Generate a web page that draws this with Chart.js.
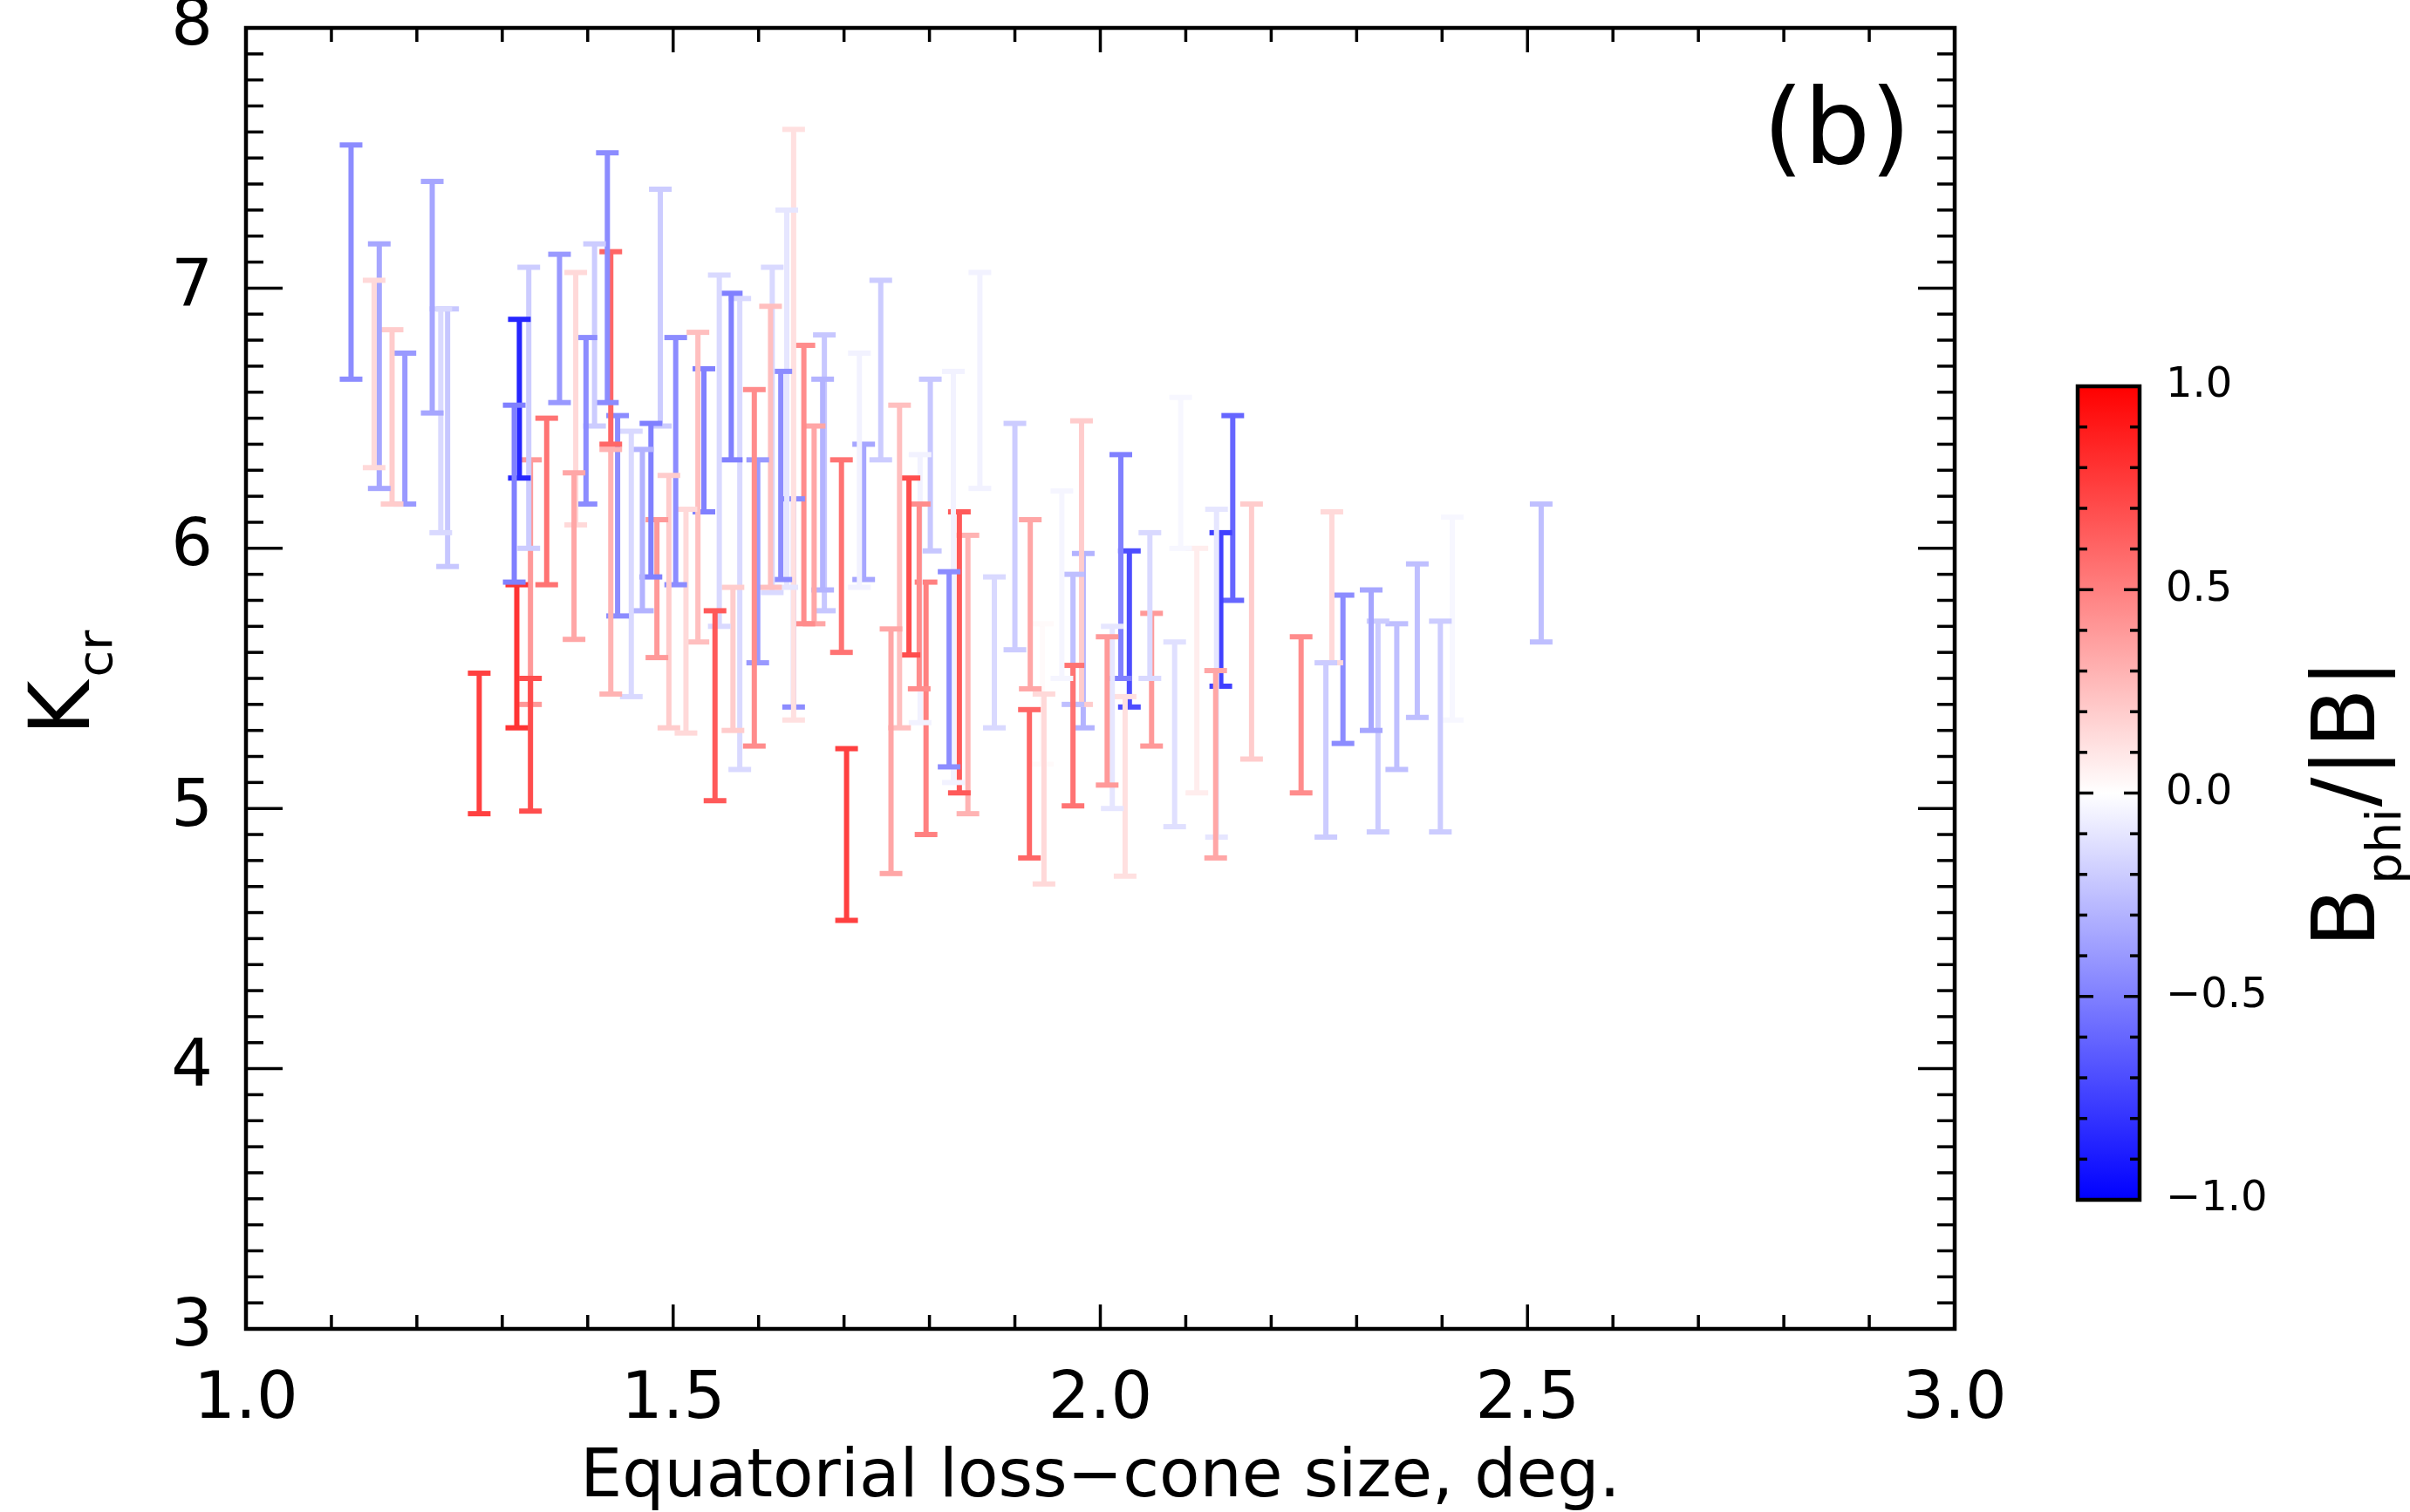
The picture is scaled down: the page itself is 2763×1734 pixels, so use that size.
<!DOCTYPE html>
<html>
<head>
<meta charset="utf-8">
<script src="https://cdn.jsdelivr.net/npm/chart.js@4.4.1/dist/chart.umd.min.js"></script>
<style>
  html, body { margin: 0; padding: 0; background: #fff; overflow: hidden; }
  #wrap { position: relative; width: 2763px; height: 1734px; }
  #main { position: absolute; left: 0; top: 0; }
  #cbar { position: absolute; left: 2300px; top: 400px; }
</style>
</head>
<body>
<div id="wrap">
  <canvas id="main" width="2763" height="1734"></canvas>
  <canvas id="cbar" width="463" height="1020"></canvas>
</div>
<script>
// ------ data ------
var lossCone = [1.123, 1.150, 1.156, 1.171, 1.186, 1.218, 1.228, 1.236, 1.273, 1.314,
  1.317, 1.320, 1.331, 1.333, 1.333, 1.352, 1.367, 1.384, 1.386, 1.398,
  1.408, 1.423, 1.427, 1.427, 1.435, 1.451, 1.464, 1.474, 1.481, 1.485,
  1.495, 1.503, 1.515, 1.529, 1.536, 1.549, 1.554, 1.568, 1.570, 1.578,
  1.595, 1.599, 1.614, 1.616, 1.626, 1.633, 1.641, 1.641, 1.653, 1.665,
  1.675, 1.677, 1.697, 1.703, 1.718, 1.723, 1.743, 1.755, 1.765, 1.776,
  1.788, 1.789, 1.796, 1.801, 1.823, 1.828, 1.835, 1.845, 1.859, 1.876,
  1.900, 1.917, 1.918, 1.934, 1.932, 1.955, 1.968, 1.968, 1.978, 1.980,
  2.008, 2.014, 2.024, 2.029, 2.034, 2.058, 2.060, 2.087, 2.094, 2.113,
  2.135, 2.136, 2.141, 2.155, 2.177, 2.235, 2.264, 2.271, 2.284, 2.317,
  2.325, 2.347, 2.371, 2.398, 2.412, 2.516];

var kLow = [6.65, 6.31, 6.23, 6.17, 6.17, 6.52, 6.06, 5.93, 4.98, 5.87,
  5.31, 6.27, 6.00, 4.99, 5.40, 5.86, 6.56, 5.65, 6.09, 6.17,
  6.47, 6.56, 6.40, 5.44, 5.74, 5.43, 5.76, 5.89, 5.58, 6.47,
  5.31, 5.86, 5.29, 5.64, 6.14, 5.03, 5.70, 6.34, 5.30, 5.15,
  5.24, 5.56, 5.85, 5.83, 5.88, 5.85, 5.34, 5.39, 5.71, 5.71,
  5.84, 5.76, 5.60, 4.57, 5.85, 5.88, 6.34, 4.75, 5.31, 5.59,
  5.46, 5.33, 4.90, 5.99, 5.16, 5.10, 5.06, 4.98, 6.23, 5.31,
  5.61, 4.81, 5.46, 4.71, 5.17, 5.50, 5.01, 5.40, 5.40, 5.31,
  5.09, 5.00, 5.50, 4.74, 5.39, 5.50, 5.24, 4.93, 6.00, 5.06,
  4.81, 4.89, 5.47, 5.80, 5.19, 5.06, 4.89, 5.56, 5.25, 5.30,
  4.91, 5.15, 5.35, 4.91, 5.34, 5.64];

var kHigh = [7.55, 7.03, 7.17, 6.84, 6.75, 7.41, 6.92, 6.92, 5.52, 6.55,
  5.86, 6.88, 7.08, 5.50, 6.34, 6.50, 7.13, 6.29, 7.06, 6.81,
  7.17, 7.52, 7.14, 6.38, 6.51, 6.45, 6.38, 6.48, 6.11, 7.38,
  6.28, 6.81, 6.15, 6.83, 6.69, 5.76, 7.05, 6.98, 5.85, 6.96,
  6.61, 6.34, 6.93, 7.08, 6.68, 7.30, 7.61, 6.19, 6.78, 6.47,
  6.65, 6.82, 6.34, 5.23, 6.75, 6.40, 7.03, 5.69, 6.55, 6.27,
  6.17, 6.36, 5.87, 6.65, 5.91, 6.68, 6.14, 6.05, 7.06, 5.89,
  6.48, 5.38, 6.11, 5.44, 5.71, 6.22, 5.55, 5.90, 6.49, 5.98,
  5.66, 5.70, 6.36, 5.43, 5.99, 6.06, 5.75, 5.64, 6.58, 6.00,
  5.53, 6.15, 6.06, 6.51, 6.17, 5.66, 5.56, 6.14, 5.82, 5.84,
  5.72, 5.71, 5.94, 5.72, 6.12, 6.17];

var bphiRatio = [-0.45, 0.15, -0.35, 0.20, -0.40, -0.35, -0.15, -0.22, 0.75, -0.50,
  0.80, -0.85, -0.20, 0.70, 0.40, 0.55, -0.40, 0.35, 0.15, -0.45,
  -0.20, -0.45, 0.60, 0.30, -0.45, -0.15, -0.30, -0.50, 0.40, -0.20,
  0.20, -0.45, 0.15, 0.25, -0.50, 0.65, -0.15, -0.50, 0.20, -0.15,
  0.45, -0.40, 0.25, -0.15, -0.45, -0.10, 0.12, -0.45, 0.45, 0.35,
  -0.30, -0.22, 0.55, 0.75, -0.05, -0.35, -0.20, 0.35, 0.25, 0.70,
  0.45, -0.05, 0.50, -0.22, -0.45, -0.05, 0.65, 0.30, -0.05, -0.15,
  -0.20, 0.60, 0.35, 0.15, 0.02, -0.04, 0.55, -0.25, 0.20, -0.30,
  0.40, -0.10, -0.50, 0.12, -0.70, -0.15, 0.40, -0.12, -0.03, 0.07,
  0.35, -0.10, -0.75, -0.60, 0.20, 0.45, -0.20, 0.15, -0.45, -0.35,
  -0.20, -0.25, -0.25, -0.20, -0.03, -0.25];

var xTickValues = [1.0, 1.5, 2.0, 2.5, 3.0];
var yTickValues = [3, 4, 5, 6, 7, 8];
var cbTickValues = [-1.0, -0.5, 0.0, 0.5, 1.0];
var cbRange = [-1, 1];

var xTitle = 'Equatorial loss\u2212cone size, deg.';
var panelTag = '(b)';

Chart.defaults.font.family = '"DejaVu Sans", sans-serif';
Chart.defaults.color = '#000';

// blue - white - red colour table
function bwr(c) {
  var t = Math.max(-1, Math.min(1, c));
  var g;
  if (t >= 0) {
    g = Math.round(255 * (1 - t));
    return 'rgb(255,' + g + ',' + g + ')';
  }
  g = Math.round(255 * (1 + t));
  return 'rgb(' + g + ',' + g + ',255)';
}

function fmt(v) {
  return (v < 0 ? '\u2212' : '') + Math.abs(v).toFixed(1);
}

function seg(ctx, x1, y1, x2, y2) {
  ctx.beginPath();
  ctx.moveTo(x1, y1);
  ctx.lineTo(x2, y2);
  ctx.stroke();
}

// keep the plot box where the reference has it
function noLabelPadding(s) {
  s.paddingTop = 0;
  s.paddingBottom = 0;
  s.paddingLeft = 0;
  s.paddingRight = 0;
}

// one dataset per error bar: vertical line + flat caps
var errorBars = lossCone.map(function (x, i) {
  var col = bwr(bphiRatio[i]);
  return {
    data: [{ x: x, y: kLow[i] }, { x: x, y: kHigh[i] }],
    showLine: true,
    borderColor: col,
    borderWidth: 6,
    pointStyle: 'line',
    pointRadius: 13,
    pointBorderWidth: 6,
    pointBorderColor: col,
    pointBackgroundColor: col
  };
});

// box, inward ticks, y title, panel tag
var frame = {
  id: 'frame',
  afterDraw: function (chart) {
    var ctx = chart.ctx, a = chart.chartArea;
    var x = chart.scales.x, y = chart.scales.y;
    ctx.save();
    ctx.strokeStyle = '#000';
    ctx.lineWidth = 3.5;
    for (var i = 10; i <= 30; i++) {
      var px = x.getPixelForValue(i / 10);
      var len = i % 5 === 0 ? 28 : 16;
      seg(ctx, px, a.bottom, px, a.bottom - len);
      seg(ctx, px, a.top, px, a.top + len);
    }
    for (var j = 30; j <= 80; j++) {
      var py = y.getPixelForValue(j / 10);
      var ln = j % 10 === 0 ? 42 : 20;
      seg(ctx, a.left, py, a.left + ln, py);
      seg(ctx, a.right, py, a.right - ln, py);
    }
    ctx.lineWidth = 4.5;
    ctx.strokeRect(a.left, a.top, a.right - a.left, a.bottom - a.top);

    ctx.fillStyle = '#000';
    // K_cr
    ctx.save();
    ctx.translate(102, 0);
    ctx.rotate(-Math.PI / 2);
    ctx.font = '96px "DejaVu Sans"';
    var wK = ctx.measureText('K').width;
    ctx.font = '56px "DejaVu Sans"';
    var wS = ctx.measureText('cr').width;
    var start = -(783 + (wK + wS + 4) / 2);
    ctx.font = '96px "DejaVu Sans"';
    ctx.textBaseline = 'alphabetic';
    ctx.fillText('K', start, 0);
    ctx.font = '56px "DejaVu Sans"';
    ctx.fillText('cr', start + wK + 4, 26);
    ctx.restore();

    ctx.font = '120px "DejaVu Sans"';
    ctx.textAlign = 'center';
    ctx.textBaseline = 'alphabetic';
    ctx.fillText(panelTag, 2106, 187);
    ctx.restore();
  }
};

new Chart(document.getElementById('main'), {
  type: 'scatter',
  data: { datasets: errorBars },
  options: {
    responsive: false,
    animation: false,
    devicePixelRatio: 1,
    events: [],
    layout: { padding: { left: 0, right: 522, top: 32, bottom: 0 } },
    plugins: { legend: { display: false }, tooltip: { enabled: false } },
    scales: {
      x: {
        type: 'linear',
        min: 1, max: 3,
        afterBuildTicks: function (s) { s.ticks = xTickValues.map(function (v) { return { value: v }; }); },
        afterFit: function (s) { s.height = 210; noLabelPadding(s); },
        grid: { display: false },
        border: { display: false },
        ticks: { font: { size: 75 }, color: '#000', padding: 30, maxRotation: 0, autoSkip: false,
          callback: function (v) { return v.toFixed(1); } },
        title: { display: true, text: xTitle, font: { size: 76 }, color: '#000', padding: { top: 0, bottom: -8 } }
      },
      y: {
        type: 'linear',
        min: 3, max: 8,
        afterBuildTicks: function (s) { s.ticks = yTickValues.map(function (v) { return { value: v }; }); },
        afterFit: function (s) { s.width = 282; noLabelPadding(s); },
        grid: { display: false },
        border: { display: false },
        ticks: { font: { size: 75 }, color: '#000', padding: 30,
          callback: function (v) { return String(v); } }
      }
    }
  },
  plugins: [frame]
});

// ------ colour bar ------
var cbFrame = {
  id: 'cbFrame',
  afterDraw: function (chart) {
    var ctx = chart.ctx, a = chart.chartArea, y = chart.scales.y;
    ctx.save();
    ctx.strokeStyle = '#000';
    ctx.lineWidth = 3.5;
    for (var i = -10; i <= 10; i++) {
      var py = y.getPixelForValue(i / 10);
      var len = i % 5 === 0 ? 18 : 11;
      seg(ctx, a.left, py, a.left + len, py);
      seg(ctx, a.right, py, a.right - len, py);
    }
    ctx.lineWidth = 4.5;
    ctx.strokeRect(a.left, a.top, a.right - a.left, a.bottom - a.top);

    // B_phi/|B|
    ctx.fillStyle = '#000';
    ctx.translate(422, 0);
    ctx.rotate(-Math.PI / 2);
    ctx.textBaseline = 'alphabetic';
    ctx.font = '100px "DejaVu Sans"';
    var wB = ctx.measureText('B').width;
    var wR = ctx.measureText('/|B|').width;
    ctx.font = '56px "DejaVu Sans"';
    var wP = ctx.measureText('phi').width;
    var start = -(521 + (wB + wP + wR + 6) / 2);
    ctx.font = '100px "DejaVu Sans"';
    ctx.fillText('B', start, 0);
    ctx.font = '56px "DejaVu Sans"';
    ctx.fillText('phi', start + wB + 4, 30);
    ctx.font = '100px "DejaVu Sans"';
    ctx.fillText('/|B|', start + wB + wP + 6, 0);
    ctx.restore();
  }
};

new Chart(document.getElementById('cbar'), {
  type: 'bar',
  data: {
    labels: [''],
    datasets: [{
      data: [cbRange],
      borderWidth: 0,
      barPercentage: 1,
      categoryPercentage: 1,
      backgroundColor: function (c) {
        var chart = c.chart;
        if (!chart.chartArea) return '#fff';
        var y = chart.scales.y;
        var g = chart.ctx.createLinearGradient(0, y.getPixelForValue(cbRange[0]), 0, y.getPixelForValue(cbRange[1]));
        g.addColorStop(0, bwr(-1));
        g.addColorStop(0.5, bwr(0));
        g.addColorStop(1, bwr(1));
        return g;
      }
    }]
  },
  options: {
    responsive: false,
    animation: false,
    devicePixelRatio: 1,
    events: [],
    layout: { padding: { left: 82, right: 0, top: 43, bottom: 44 } },
    plugins: { legend: { display: false }, tooltip: { enabled: false } },
    scales: {
      x: { display: false },
      y: {
        position: 'right',
        min: cbRange[0], max: cbRange[1],
        afterBuildTicks: function (s) { s.ticks = cbTickValues.map(function (v) { return { value: v }; }); },
        afterFit: function (s) { s.width = 310; noLabelPadding(s); },
        grid: { display: false },
        border: { display: false },
        ticks: { font: { size: 48 }, color: '#000', padding: 22, callback: fmt }
      }
    }
  },
  plugins: [cbFrame]
});
</script>
</body>
</html>
